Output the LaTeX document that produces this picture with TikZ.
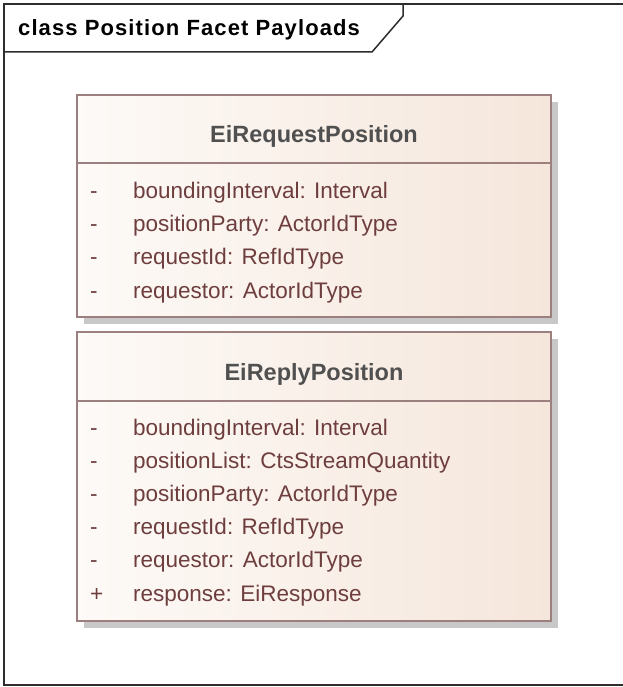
\documentclass[tikz,border=0pt]{standalone}
\usepackage{fontspec}
\setmainfont{Liberation Sans}
\newfontfamily\framefont[LetterSpace=5]{Liberation Sans}
\usetikzlibrary{calc}

\definecolor{frameline}{RGB}{45,45,45}
\definecolor{boxline}{RGB}{156,128,128}
\definecolor{boxleft}{RGB}{253,250,247}
\definecolor{boxright}{RGB}{245,230,219}
\definecolor{boxshadow}{RGB}{200,200,200}
\definecolor{attrtext}{RGB}{110,62,62}
\definecolor{nametext}{RGB}{80,80,80}

\begin{document}
\begin{tikzpicture}
  [
    x = 1pt, y = -1pt,
    frame/.style = {draw = frameline, line width = 1.5pt},
    classbox/.style = {draw = boxline, line width = 1.4pt,
                       left color = boxleft, right color = boxright},
    shadowbox/.style = {fill = boxshadow},
    framename/.style = {anchor = base west, inner sep = 0,
                        font = \framefont\fontsize{22}{26}\selectfont\bfseries},
    classname/.style = {anchor = base, inner sep = 0, text = nametext,
                        font = \fontsize{23.5}{28}\selectfont\bfseries},
    attr/.style = {anchor = base west, inner sep = 0, text = attrtext,
                   font = \fontsize{22.5}{27}\selectfont},
    vis/.style = {attr}
  ]
  \useasboundingbox (0,0) rectangle (622,687);

  % diagram frame and its name tab
  \fill[white] (0,0) rectangle (622,687);
  \draw[frame] (4,4) rectangle (640,685);
  \draw[frame] (4,52) -- (372,52) -- (403,16) -- (403,4);
  \node[framename] (FrameName) at (18,36) {class Position Facet Payloads};

  % EiRequestPosition
  \fill[shadowbox] (84,102) rectangle (558,324);
  \draw[classbox] (77,95) rectangle (551,317);
  \draw[draw = boxline, line width = 1.4pt] (77,163) -- (551,163);
  \node[classname] (ReqName) at (314,143) {EiRequestPosition};
  \foreach \v/\a [count = \i] in {
      -/boundingInterval: Interval,
      -/positionParty: ActorIdType,
      -/requestId: RefIdType,
      -/requestor: ActorIdType} {
    \node[vis] (ReqVis\i) at (90,{198+33.4*(\i-1)}) {\v};
    \node[attr] (ReqAttr\i) at (133,{198+33.4*(\i-1)}) {\a};
  }

  % EiReplyPosition
  \fill[shadowbox] (84,339) rectangle (558,628);
  \draw[classbox] (77,332) rectangle (551,621);
  \draw[draw = boxline, line width = 1.4pt] (77,401) -- (551,401);
  \node[classname] (RepName) at (314,380) {EiReplyPosition};
  \foreach \v/\a [count = \i] in {
      -/boundingInterval: Interval,
      -/positionList: CtsStreamQuantity,
      -/positionParty: ActorIdType,
      -/requestId: RefIdType,
      -/requestor: ActorIdType,
      +/response: EiResponse} {
    \node[vis] (RepVis\i) at (90,{435+33.2*(\i-1)}) {\v};
    \node[attr] (RepAttr\i) at (133,{435+33.2*(\i-1)}) {\a};
  }
\end{tikzpicture}
\end{document}
